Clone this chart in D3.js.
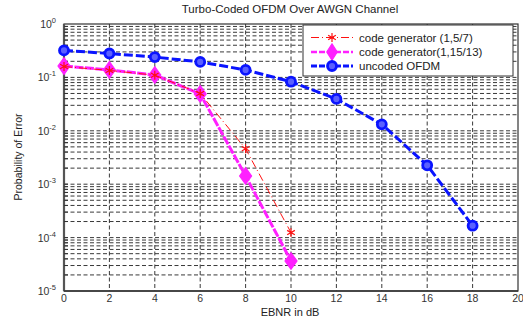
<!DOCTYPE html>
<html>
<head>
<meta charset="utf-8">
<script src="https://cdn.jsdelivr.net/npm/d3@7/dist/d3.min.js"></script>
<style>
  html, body { margin: 0; padding: 0; background: #fff; }
  svg { display: block; font-family: "Liberation Sans", Arial, sans-serif; }
</style>
</head>
<body>
<svg id="chart" width="523" height="323"></svg>
<script>
// EbN0 sweep (dB)
const ebnr = [0, 2, 4, 6, 8, 10, 12, 14, 16, 18];
const ebnrCoded = [0, 2, 4, 6, 8, 10];

// Bit error probabilities
const berGen157 = [0.16, 0.135, 0.11, 0.05, 0.0046, 0.000124];
const berGen11513 = [0.163, 0.138, 0.111, 0.049, 0.00143, 0.0000365];
const berUncoded = [0.32, 0.28, 0.24, 0.195, 0.138, 0.083, 0.0395, 0.0132, 0.00226, 0.000167];

const xTicks = [0, 2, 4, 6, 8, 10, 12, 14, 16, 18, 20];
const yDecades = [0, -1, -2, -3, -4, -5];

const seriesNames = ["code generator (1,5/7)", "code generator(1,15/13)", "uncoded OFDM"];

const svg = d3.select("#chart");
const pL = 64, pR = 518, pT = 24, pB = 291;

const x = d3.scaleLinear().domain([0, 20]).range([pL, pR]);
const y = d3.scaleLog().domain([1e-5, 1]).range([pB, pT]);

const grid = svg.append("g");
// vertical grid
grid.selectAll("line.vx").data(xTicks.slice(1, -1)).enter().append("line")
  .attr("x1", d => x(d)).attr("x2", d => x(d))
  .attr("y1", pT).attr("y2", pB)
  .attr("stroke", "#222").attr("stroke-width", 0.9).attr("stroke-dasharray", "4,2.5");
// horizontal grid (decades and minor ticks)
const hVals = [];
for (let e = -5; e < 0; e++) for (let m = 1; m <= 9; m++) hVals.push(m * Math.pow(10, e));
const inner = hVals.filter(v => v > 1.0001e-5 && v < 0.9999);
grid.selectAll("line.hy").data(inner).enter().append("line")
  .attr("x1", pL).attr("x2", pR)
  .attr("y1", d => y(d)).attr("y2", d => y(d))
  .attr("stroke", "#222").attr("stroke-width", 0.9).attr("stroke-dasharray", "4,2.5");

// frame
svg.append("rect").attr("x", pL).attr("y", pT)
  .attr("width", pR - pL).attr("height", pB - pT)
  .attr("fill", "none").attr("stroke", "#333").attr("stroke-width", 1.2);
svg.append("line").attr("x1", pL).attr("x2", pL).attr("y1", pT).attr("y2", pB)
  .attr("stroke", "#555").attr("stroke-width", 2.2);
svg.append("line").attr("x1", pL).attr("x2", pR).attr("y1", pB).attr("y2", pB)
  .attr("stroke", "#333").attr("stroke-width", 1.4);

// minor ticks on the left axis
svg.selectAll("line.mt").data(inner).enter().append("line")
  .attr("x1", pL).attr("x2", pL + 4)
  .attr("y1", d => y(d)).attr("y2", d => y(d))
  .attr("stroke", "#333").attr("stroke-width", 1);

// x tick labels
svg.selectAll("text.xt").data(xTicks).enter().append("text")
  .attr("x", d => x(d)).attr("y", 302)
  .attr("text-anchor", "middle").attr("font-size", 10.5).attr("fill", "#333")
  .text(d => d);

// y tick labels: 10^e
const yt = svg.selectAll("text.yt").data(yDecades).enter().append("text")
  .attr("x", 56).attr("y", d => y(Math.pow(10, d)) + 4)
  .attr("text-anchor", "end").attr("font-size", 10.5).attr("fill", "#333");
yt.append("tspan").text("10");
yt.append("tspan").attr("dy", -5).attr("font-size", 7.5).text(d => d === 0 ? "0" : "-" + (-d));

// titles
svg.append("text").attr("x", 290).attr("y", 13).attr("text-anchor", "middle")
  .attr("font-size", 11.5).attr("fill", "#222").text("Turbo-Coded OFDM Over AWGN Channel");
svg.append("text").attr("x", 290).attr("y", 316).attr("text-anchor", "middle")
  .attr("font-size", 11).attr("fill", "#222").text("EBNR in dB");
svg.append("text").attr("transform", "translate(22,157) rotate(-90)").attr("text-anchor", "middle")
  .attr("font-size", 10.5).attr("fill", "#222").text("Probability of Error");

const line = d3.line().x(d => x(d[0])).y(d => y(d[1]));
const zip = (xs, ys) => xs.map((v, i) => [v, ys[i]]);

const blue = zip(ebnr, berUncoded);
const mag = zip(ebnrCoded, berGen11513);
const red = zip(ebnrCoded, berGen157);

// uncoded
svg.append("path").datum(blue).attr("d", line).attr("fill", "none")
  .attr("stroke", "#0a14ff").attr("stroke-width", 3).attr("stroke-dasharray", "9,3");
svg.selectAll("circle.b").data(blue).enter().append("circle")
  .attr("cx", d => x(d[0])).attr("cy", d => y(d[1])).attr("r", 4.5)
  .attr("fill", "#5a60ff").attr("stroke", "#0a14ff").attr("stroke-width", 2.8);

// (1,15/13)
svg.append("path").datum(mag).attr("d", line).attr("fill", "none")
  .attr("stroke", "#ff20ff").attr("stroke-width", 3).attr("stroke-dasharray", "9,1.5");
const diamond = d3.symbol().type(d3.symbolDiamond).size(80);
svg.selectAll("path.m").data(mag).enter().append("path")
  .attr("transform", d => `translate(${x(d[0])},${y(d[1])}) scale(1.25,1)`)
  .attr("d", diamond).attr("fill", "#ff20ff").attr("stroke", "#ff20ff").attr("stroke-width", 1);

// (1,5/7)
svg.append("path").datum(red).attr("d", line).attr("fill", "none")
  .attr("stroke", "#ff1010").attr("stroke-width", 1).attr("stroke-dasharray", "8,3,1,3");
const star = d3.symbol().type(d3.symbolAsterisk).size(55);
svg.selectAll("path.r").data(red).enter().append("path")
  .attr("transform", d => `translate(${x(d[0])},${y(d[1])})`)
  .attr("d", star).attr("fill", "none").attr("stroke", "#ff1010").attr("stroke-width", 1.2);

// legend
const lg = svg.append("g");
lg.append("rect").attr("x", 303).attr("y", 25).attr("width", 210).attr("height", 51)
  .attr("fill", "#fff").attr("stroke", "#333").attr("stroke-width", 1);
const rows = [37.5, 52, 66];
const lx0 = 311, lx1 = 353, lxm = 332;
// row 1
lg.append("line").attr("x1", lx0).attr("x2", lx1).attr("y1", rows[0]).attr("y2", rows[0])
  .attr("stroke", "#ff1010").attr("stroke-width", 1).attr("stroke-dasharray", "8,3,1,3");
lg.append("path").attr("transform", `translate(${lxm},${rows[0]})`).attr("d", star)
  .attr("fill", "none").attr("stroke", "#ff1010").attr("stroke-width", 1.2);
// row 2
lg.append("line").attr("x1", lx0).attr("x2", lx1).attr("y1", rows[1]).attr("y2", rows[1])
  .attr("stroke", "#ff20ff").attr("stroke-width", 2.5).attr("stroke-dasharray", "6,2");
lg.append("path").attr("transform", `translate(${lxm},${rows[1]}) scale(1.1,1)`).attr("d", diamond)
  .attr("fill", "#ff20ff").attr("stroke", "#ff20ff");
// row 3
lg.append("line").attr("x1", lx0).attr("x2", lx1).attr("y1", rows[2]).attr("y2", rows[2])
  .attr("stroke", "#0a14ff").attr("stroke-width", 3).attr("stroke-dasharray", "6,2");
lg.append("circle").attr("cx", lxm).attr("cy", rows[2]).attr("r", 4.5)
  .attr("fill", "#5a60ff").attr("stroke", "#0a14ff").attr("stroke-width", 2.8);
lg.selectAll("text.lt").data(seriesNames).enter().append("text")
  .attr("x", 359).attr("y", (d, i) => rows[i] + 4)
  .attr("font-size", 11.5).attr("fill", "#222").text(d => d);
</script>
</body>
</html>
